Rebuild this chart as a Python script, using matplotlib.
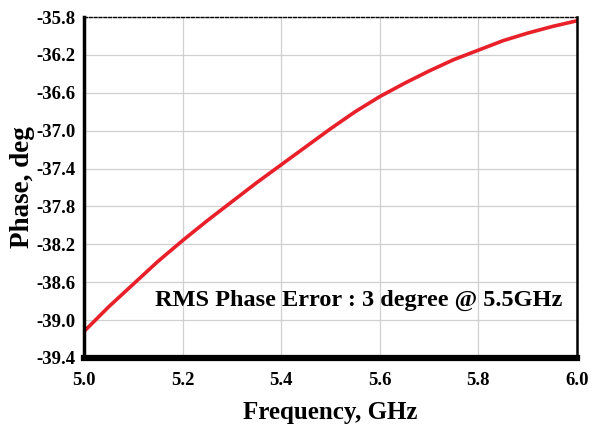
# phase vs frequency plot
import matplotlib
matplotlib.use("Agg")
import matplotlib.pyplot as plt

freq = [5.0, 5.05, 5.1, 5.15, 5.2, 5.25, 5.3, 5.35, 5.4, 5.45, 5.5,
        5.55, 5.6, 5.65, 5.7, 5.75, 5.8, 5.85, 5.9, 5.95, 6.0]
phase = [-39.12, -38.86, -38.62, -38.38, -38.16, -37.95, -37.75, -37.55, -37.36, -37.17, -36.98,
         -36.80, -36.64, -36.50, -36.37, -36.25, -36.15, -36.05, -35.97, -35.90, -35.84]
xticks = [5.0, 5.2, 5.4, 5.6, 5.8, 6.0]
yticks = [-39.4, -39.0, -38.6, -38.2, -37.8, -37.4, -37.0, -36.6, -36.2, -35.8]
note = "RMS Phase Error : 3 degree @ 5.5GHz"

plt.rcParams['font.family'] = 'Liberation Serif'
plt.rcParams['font.weight'] = 'bold'

fig = plt.figure(figsize=(5.95, 4.24), dpi=100)
ax = fig.add_axes([84/595, 1-358/424, (577-84)/595, (358-17)/424])

ax.plot(freq, phase, color='#e8202a', lw=2.6, solid_capstyle='round')
ax.set_xlim(5.0, 6.0)
ax.set_ylim(-39.4, -35.8)
ax.set_xticks(xticks)
ax.set_xticklabels(["%.1f" % v for v in xticks])
ax.set_yticks(yticks)
ax.set_yticklabels(["%.1f" % v for v in yticks])
ax.tick_params(length=0, labelsize=13.5)
ax.tick_params(axis='x', pad=10)
ax.tick_params(axis='y', pad=6)
ax.grid(True, color='#d0d0d0', lw=0.9)

ax.spines['left'].set_linewidth(2.5)
ax.spines['bottom'].set_linewidth(4.5)
ax.spines['right'].set_linewidth(1.8)
ax.spines['top'].set_linewidth(1.0)
ax.spines['top'].set_linestyle((0, (2, 1.5)))

ax.set_xlabel("Frequency, GHz", fontsize=18, fontweight='bold')
ax.xaxis.set_label_coords(0.5, -0.125)
ax.set_ylabel("Phase, deg", fontsize=19.5, fontweight='bold')
ax.yaxis.set_label_coords(-0.1, 0.5)
ax.text(5.145, -38.79, note, fontsize=17.5, fontweight='bold', va='center', ha='left')

fig.savefig("out.png", dpi=100)
